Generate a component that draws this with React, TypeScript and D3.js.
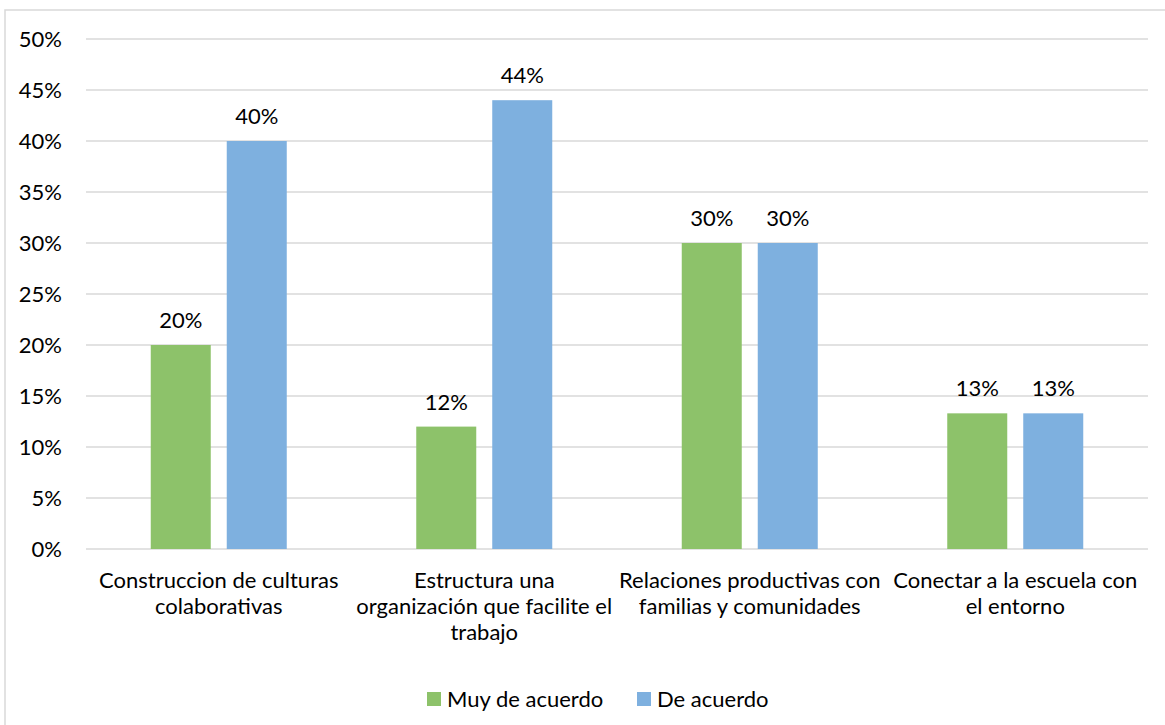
import React from "react";
import * as d3 from "d3";

const categories: string[][] = [
  ["Construccion de culturas", "colaborativas"],
  ["Estructura una", "organización que facilite el", "trabajo"],
  ["Relaciones productivas con", "familias y comunidades"],
  ["Conectar a la escuela con", "el entorno"],
];
const seriesNames = ["Muy de acuerdo", "De acuerdo"];
const muyDeAcuerdo = [0.2, 0.12, 0.3, 0.133];
const deAcuerdo = [0.4, 0.44, 0.3, 0.133];
const yTicks = [0, 0.05, 0.1, 0.15, 0.2, 0.25, 0.3, 0.35, 0.4, 0.45, 0.5];
const colors = ["#8DC26A", "#7EB0DF"];

const W = 1165;
const H = 725;
const FONT = "Lato, 'Open Sans', sans-serif";
const FS = 22;

export default function App() {
  const left = 86;
  const right = 1148;
  const top = 39;
  const bottom = 549;
  const x0 = d3.scaleBand<number>().domain(d3.range(categories.length)).range([left, right]).padding(0);
  const y = d3.scaleLinear().domain([0, 0.5]).range([bottom, top]);
  const x1 = d3.scaleBand<number>().domain([0, 1]).range([0, x0.bandwidth()]).paddingInner(0.2105).paddingOuter(0.852);
  const series = [muyDeAcuerdo, deAcuerdo];
  const fmt = d3.format(".0%");

  return (
    <svg width={W} height={H} style={{ position: "absolute", left: 0, top: 0, background: "#fff" }} fontFamily={FONT}>
      <rect x={5} y={10} width={W + 10} height={H + 10} fill="#fff" stroke="#d9d9d9" strokeWidth={1.5} />
      {yTicks.map((t) => (
        <g key={t}>
          <line x1={left} x2={right} y1={y(t)} y2={y(t)} stroke="#d9d9d9" strokeWidth={1.5} />
          <text x={62} y={y(t)} dy="0.35em" textAnchor="end" fontSize={FS} fill="#000">
            {fmt(t)}
          </text>
        </g>
      ))}
      {series.map((vals, si) =>
        vals.map((v, ci) => {
          const bx = (x0(ci) as number) + (x1(si) as number);
          const bw = x1.bandwidth();
          return (
            <g key={`${si}-${ci}`}>
              <rect x={bx} y={y(v)} width={bw} height={y(0) - y(v)} fill={colors[si]} />
              <text x={bx + bw / 2} y={y(v) - 17} textAnchor="middle" fontSize={FS} fill="#000">
                {fmt(v)}
              </text>
            </g>
          );
        })
      )}
      {categories.map((lines, ci) => (
        <text key={ci} x={(x0(ci) as number) + x0.bandwidth() / 2} y={588} textAnchor="middle" fontSize={FS} fill="#000">
          {lines.map((l, li) => (
            <tspan key={li} x={(x0(ci) as number) + x0.bandwidth() / 2} dy={li === 0 ? 0 : 26}>
              {l}
            </tspan>
          ))}
        </text>
      ))}
      {seriesNames.map((n, i) => {
        const lx = [427, 637][i];
        return (
          <g key={n}>
            <rect x={lx} y={692} width={14} height={14} fill={colors[i]} />
            <text x={lx + 20} y={707} fontSize={FS} fill="#000">
              {n}
            </text>
          </g>
        );
      })}
    </svg>
  );
}
